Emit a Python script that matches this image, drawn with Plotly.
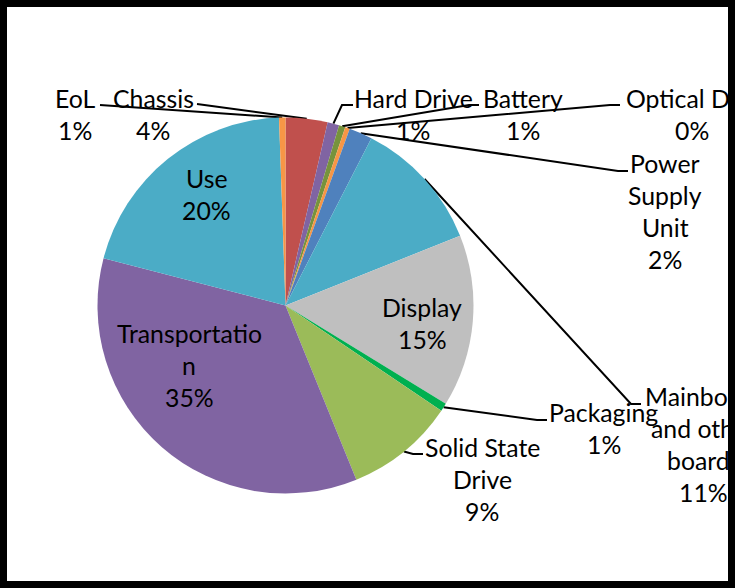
import math
import plotly.graph_objects as go

# ---------------- data ----------------
categories = ["Chassis", "Hard Drive", "Battery", "Optical Drive", "Power Supply Unit",
              "Mainboard and other boards", "Display", "Packaging", "Solid State Drive",
              "Transportation", "Use", "EoL"]
shares = [3.6, 1.0, 0.55, 0.4, 2.0, 11.4, 14.8, 0.7, 9.4, 35.2, 20.4, 0.55]
label_lines = [["Chassis"], ["Hard Drive"], ["Battery"], ["Optical Drive"],
               ["Power", "Supply", "Unit"], ["Mainboard", "and other", "boards"],
               ["Display"], ["Packaging"], ["Solid State", "Drive"],
               ["Transportatio", "n"], ["Use"], ["EoL"]]
colors = ["#C0504D", "#8064A2", "#77933C", "#F79646", "#4F81BD", "#4BACC6",
          "#BFBFBF", "#00B050", "#9BBB59", "#8064A2", "#4BACC6", "#F79646"]

# ---------------- layout ----------------
W, H = 739, 588
CX, CY, R = 285.5, 305.5, 188.0
FONT = dict(family="Lato", size=24.8, color="black")
LINE_GAP = 32.3

# per category: (text x, first line y, xanchor, leader end, leader elbow) ; None leader = inside label
placements = {
    "Chassis": (153, 98, "center", (197, 104), (207, 105)),
    "Hard Drive": (413, 98, "center", (353, 105), (342, 105)),
    "Battery": (523, 98, "center", (479, 105), (469, 105)),
    "Optical Drive": (624, 98, "left", (620, 105), (610, 105)),
    "Power Supply Unit": (665, 163, "center", (628, 171), (618, 171)),
    "Mainboard and other boards": (703, 396, "center", (641, 404), (631, 404)),
    "Display": (422, 307, "center", None, None),
    "Packaging": (603.5, 412, "center", (547, 420), (537, 420)),
    "Solid State Drive": (482, 447, "center", (423, 454), (413, 454)),
    "Transportation": (189, 333, "center", None, None),
    "Use": (206, 178, "center", None, None),
    "EoL": (75, 98, "center", (100, 105), (110, 105)),
}

total = sum(shares)
fig = go.Figure()

fig.add_trace(go.Pie(
    labels=categories, values=shares, sort=False, direction="clockwise", rotation=0,
    marker=dict(colors=colors, line=dict(width=0)), textinfo="none",
    hoverinfo="label+percent", showlegend=False,
    domain=dict(x=[(CX - R) / W, (CX + R) / W], y=[1 - (CY + R) / H, 1 - (CY - R) / H]),
))

# leader lines computed from slice mid angles
lx, ly = [], []
annotations = []
cum = 0.0
for cat, v, lines in zip(categories, shares, label_lines):
    mid = (cum + v / 2) / total * 2 * math.pi
    cum += v
    px = CX + R * math.sin(mid)
    py = CY - R * math.cos(mid)
    tx, ty, anchor, end, elbow = placements[cat]
    if end is not None:
        lx += [px, elbow[0], end[0], None]
        ly += [py, elbow[1], end[1], None]
    pct = f"{round(v / total * 100)}%"
    all_lines = lines + [pct]
    for i, t in enumerate(all_lines):
        x = tx
        xa = anchor
        if anchor == "left" and i > 0:
            # percentage centred under the full label text
            x, xa = 692, "center"
        annotations.append(dict(x=x, y=ty + i * LINE_GAP, xref="x", yref="y", text=t,
                                showarrow=False, xanchor=xa, yanchor="middle", font=FONT))

fig.add_trace(go.Scatter(x=lx, y=ly, mode="lines", line=dict(color="black", width=2),
                         hoverinfo="skip", showlegend=False))

# right frame edge drawn over label text (clips it)
annotations.append(dict(x=728, y=H / 2, xref="x", yref="y", text=" ", showarrow=False,
                        xanchor="left", yanchor="middle", width=30, height=H,
                        bgcolor="white", borderpad=0, borderwidth=0))
annotations.append(dict(x=728, y=H / 2, xref="x", yref="y", text=" ", showarrow=False,
                        xanchor="left", yanchor="middle", width=7, height=H,
                        bgcolor="black", borderpad=0, borderwidth=0))

shapes = [
    dict(type="rect", xref="x", yref="y", x0=0, x1=7, y0=0, y1=H, fillcolor="black", line_width=0, layer="above"),
    dict(type="rect", xref="x", yref="y", x0=0, x1=735, y0=0, y1=7, fillcolor="black", line_width=0, layer="above"),
    dict(type="rect", xref="x", yref="y", x0=0, x1=735, y0=581, y1=H, fillcolor="black", line_width=0, layer="above"),
]

fig.update_layout(
    width=W, height=H, margin=dict(l=0, r=0, t=0, b=0),
    paper_bgcolor="white", plot_bgcolor="white",
    xaxis=dict(range=[0, W], visible=False, fixedrange=True),
    yaxis=dict(range=[H, 0], visible=False, fixedrange=True),
    annotations=annotations, shapes=shapes, showlegend=False,
)

fig.write_html("out.html", config={"displayModeBar": False},
               post_script="document.body.style.margin='0';document.body.style.overflow='hidden';")
